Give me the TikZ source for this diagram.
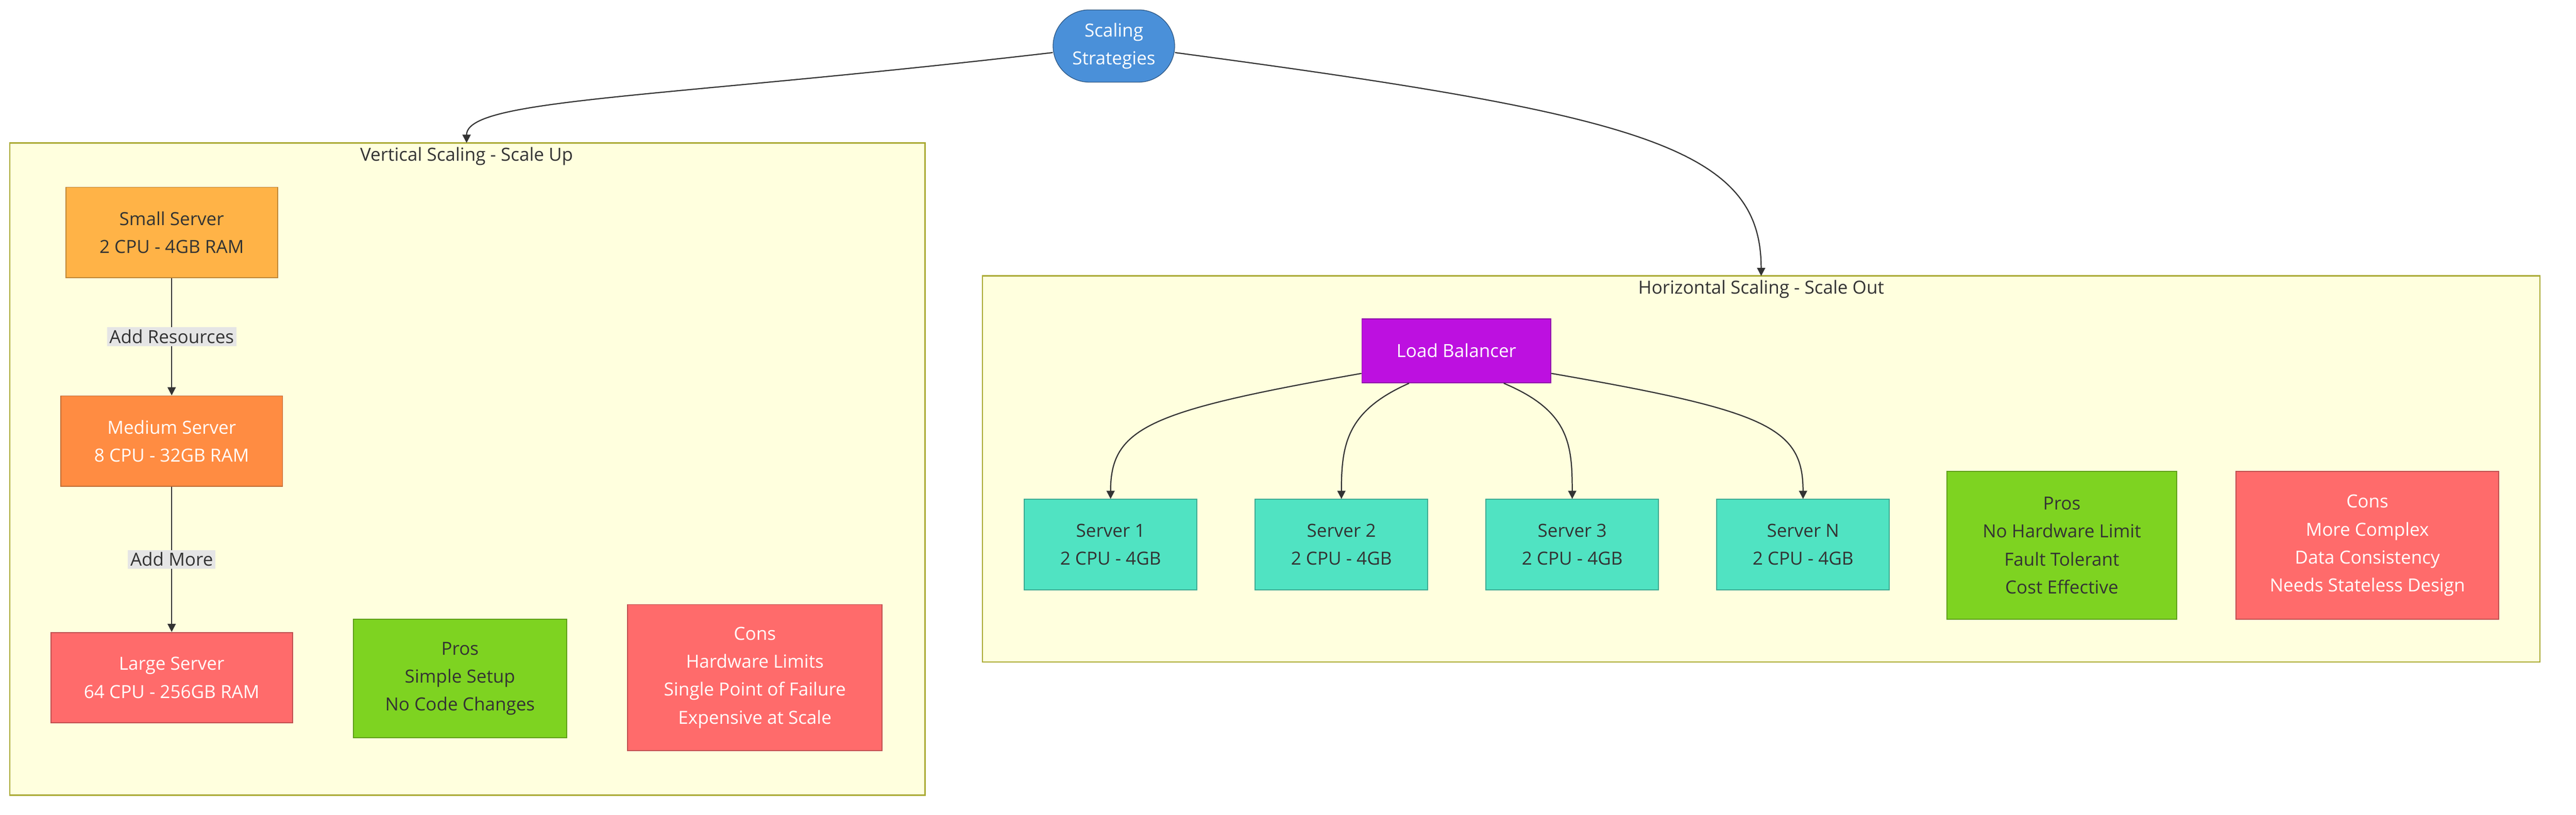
\documentclass[tikz,border=0pt]{standalone}
\usepackage{fontspec}
\setmainfont{Open Sans}
\usetikzlibrary{arrows.meta,shapes.misc}
\definecolor{clfill}{HTML}{FFFFDE}
\definecolor{clline}{HTML}{AAAA33}
\definecolor{blue1}{HTML}{4A90D9}
\definecolor{org1}{HTML}{FFB347}
\definecolor{org2}{HTML}{FF8C42}
\definecolor{red1}{HTML}{FF6B6B}
\definecolor{grn1}{HTML}{7ED321}
\definecolor{pur1}{HTML}{BD10E0}
\definecolor{teal1}{HTML}{50E3C2}
\definecolor{txt}{HTML}{333333}
\begin{document}
\begin{tikzpicture}[x=1pt,y=-1pt,
  every node/.style={font=\fontsize{11}{17}\selectfont, align=center},
  box/.style={draw=#1!75!black, fill=#1, line width=0.6pt, inner sep=0},
  cl/.style={draw=clline, fill=clfill, line width=0.8pt},
  lbl/.style={fill=black!10, inner sep=1.5pt, text=txt},
  arr/.style={-{Triangle[length=5pt,width=5pt]}, draw=txt, line width=0.7pt}]
\useasboundingbox (0,0) rectangle (1568,496);
\fill[white] (0,0) rectangle (1568,496);
% clusters
\draw[cl] (6,87) rectangle (563,484);
\node[text=txt] (vt) at (284,95) {Vertical Scaling - Scale Up};
\coordinate (vtop) at (284,87);
\draw[cl] (598,168) rectangle (1546,403);
\node[text=txt] (ht) at (1072,176) {Horizontal Scaling - Scale Out};
\coordinate (htop) at (1072,168);
% top
\node[draw=blue1!60!black, fill=blue1, rounded rectangle, text=white, minimum width=74pt, minimum height=44pt, inner sep=0] (top) at (678,28) {Scaling\\Strategies};
% vertical nodes
\node[box=org1, minimum width=129pt, minimum height=55pt, text=txt] (small) at (104.5,141.5) {Small Server\\2 CPU - 4GB RAM};
\node[box=org2, minimum width=135pt, minimum height=55pt, text=white] (med) at (104.5,268.5) {Medium Server\\8 CPU - 32GB RAM};
\node[box=red1, minimum width=147pt, minimum height=55pt, text=white] (large) at (104.5,412.5) {Large Server\\64 CPU - 256GB RAM};
\node[box=grn1, minimum width=130pt, minimum height=72pt, text=txt] (vpros) at (280,413) {Pros\\Simple Setup\\No Code Changes};
\node[box=red1, minimum width=155pt, minimum height=89pt, text=white] (vcons) at (459.5,412.5) {Cons\\Hardware Limits\\Single Point of Failure\\Expensive at Scale};
\draw[arr] (small) -- node[lbl] (l1) {Add Resources} (med);
\draw[arr] (med) -- node[lbl] (l2) {Add More} (large);
% horizontal nodes
\node[box=pur1, minimum width=115pt, minimum height=39pt, text=white] (lb) at (886.5,213.5) {Load Balancer};
\node[box=teal1, minimum width=105pt, minimum height=55pt, text=txt] (s1) at (676,331.5) {Server 1\\2 CPU - 4GB};
\node[box=teal1, minimum width=105pt, minimum height=55pt, text=txt] (s2) at (816.5,331.5) {Server 2\\2 CPU - 4GB};
\node[box=teal1, minimum width=105pt, minimum height=55pt, text=txt] (s3) at (957,331.5) {Server 3\\2 CPU - 4GB};
\node[box=teal1, minimum width=105pt, minimum height=55pt, text=txt] (sn) at (1097.5,331.5) {Server N\\2 CPU - 4GB};
\node[box=grn1, minimum width=140pt, minimum height=90pt, text=txt] (hpros) at (1255,332) {Pros\\No Hardware Limit\\Fault Tolerant\\Cost Effective};
\node[box=red1, minimum width=160pt, minimum height=90pt, text=white] (hcons) at (1441,332) {Cons\\More Complex\\Data Consistency\\Needs Stateless Design};
% edges
\draw[arr] (top.west) ++(0,4) .. controls (400,60) and (284,60) .. (vtop);
\draw[arr] (top.east) ++(0,4) .. controls (1000,70) and (1072,90) .. (htop);
\draw[arr] (lb.south west) ++(0,-6) .. controls (700,250) and (676,260) .. (s1.north);
\draw[arr] (lb.south west) ++(29,0) .. controls (820,250) and (816.5,270) .. (s2.north);
\draw[arr] (lb.south east) ++(-29,0) .. controls (955,250) and (957,270) .. (s3.north);
\draw[arr] (lb.south east) ++(0,-6) .. controls (1075,250) and (1097.5,260) .. (sn.north);
\end{tikzpicture}
\end{document}
